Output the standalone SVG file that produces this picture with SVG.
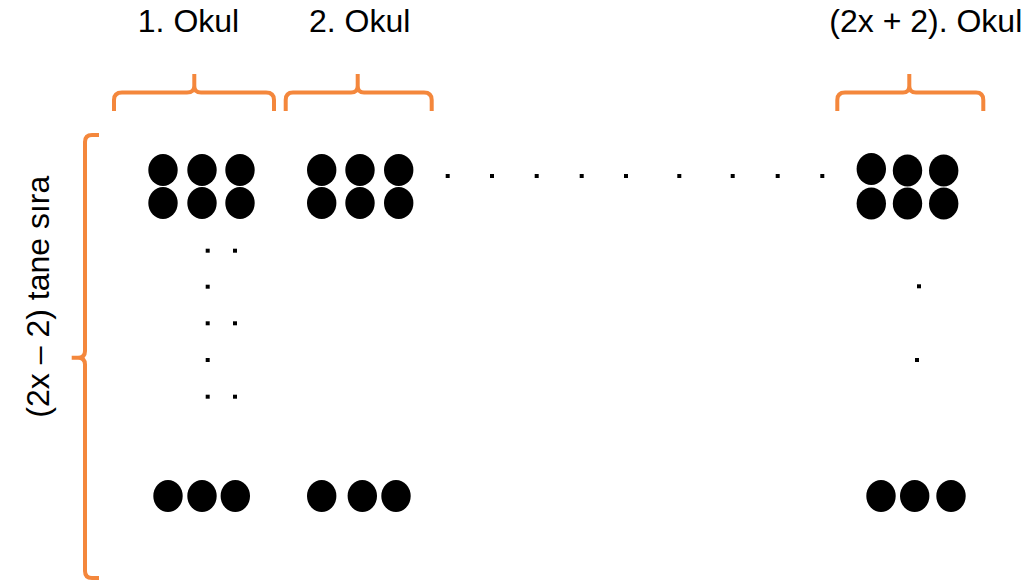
<svg xmlns="http://www.w3.org/2000/svg" width="1030" height="586" viewBox="0 0 1030 586">
<style>
.lbl{font-family:"Liberation Sans",Arial,sans-serif;font-size:32px;fill:#000;text-anchor:middle}
.br{fill:none;stroke:#F4873C;stroke-width:4;stroke-linecap:butt;stroke-linejoin:round}
.b{fill:#000}
</style>
<defs>
<ellipse id="c" rx="14.7" ry="16" class="b"/>
<rect id="d" x="-2" y="-2" width="4" height="4" class="b"/>
</defs>
<rect width="1030" height="586" fill="#fff"/>
<g id="labels">
<text class="lbl" x="188.5" y="31.5">1. Okul</text>
<text class="lbl" x="359.7" y="31.5">2. Okul</text>
<text class="lbl" x="925.8" y="31.5">(2x + 2). Okul</text>
<text class="lbl" transform="translate(49,296.7) rotate(-90)">(2x – 2) tane sıra</text>
</g>
<g id="brackets">
<path class="br" d="M114,111 V100 Q114,92.5 122,92.5 H187 Q194.3,92.5 194.3,86 V74 M194.3,86 Q194.3,92.5 201,92.5 H266 Q274,92.5 274,100 V111"/>
<path class="br" d="M285.7,111 V100 Q285.7,92.5 293,92.5 H351 Q357.7,92.5 357.7,86 V74 M357.7,86 Q357.7,92.5 364,92.5 H424 Q431.7,92.5 431.7,100 V111"/>
<path class="br" d="M837.3,111 V100 Q837.3,92.5 845,92.5 H903 Q909.3,92.5 909.3,86 V74 M909.3,86 Q909.3,92.5 916,92.5 H976 Q983.3,92.5 983.3,100 V111"/>
<path class="br" d="M99,135 H92 Q85,135 85,142 V351 Q85,357.7 78,357.7 H71.7 M78,357.7 Q85,357.7 85,364.5 V571 Q85,578 92,578 H99"/>
</g>
<g id="group1">
<use href="#c" x="163" y="170"/><use href="#c" x="202" y="170"/><use href="#c" x="240" y="170"/>
<use href="#c" x="163" y="203"/><use href="#c" x="202" y="203"/><use href="#c" x="240" y="203"/>
<use href="#c" x="168" y="496"/><use href="#c" x="202" y="496"/><use href="#c" x="235.3" y="496"/>
</g>
<g id="group2">
<use href="#c" x="321.7" y="170"/><use href="#c" x="360" y="170"/><use href="#c" x="398.7" y="170"/>
<use href="#c" x="321.7" y="203"/><use href="#c" x="360" y="203"/><use href="#c" x="398.7" y="203"/>
<use href="#c" x="321.7" y="496"/><use href="#c" x="362.3" y="496"/><use href="#c" x="396" y="496"/>
</g>
<g id="group3">
<use href="#c" x="871.3" y="169"/><use href="#c" x="907.5" y="170.5"/><use href="#c" x="943.7" y="170.5"/>
<use href="#c" x="871.3" y="203.5"/><use href="#c" x="907.5" y="203.5"/><use href="#c" x="943.7" y="203.5"/>
<use href="#c" x="881" y="496"/><use href="#c" x="914.7" y="496"/><use href="#c" x="951" y="496"/>
</g>
<g id="ellipsis-dots">
<use href="#d" x="447.7" y="176"/><use href="#d" x="492" y="176"/><use href="#d" x="536.7" y="176"/>
<use href="#d" x="581.7" y="176"/><use href="#d" x="626" y="176"/><use href="#d" x="679.3" y="176"/>
<use href="#d" x="732.7" y="176"/><use href="#d" x="777.7" y="176"/><use href="#d" x="822.3" y="176"/>
<use href="#d" x="207.7" y="250.7"/><use href="#d" x="235" y="250.7"/>
<use href="#d" x="207.7" y="286.7"/>
<use href="#d" x="207.7" y="323.3"/><use href="#d" x="235" y="323.3"/>
<use href="#d" x="207.7" y="360"/>
<use href="#d" x="207.7" y="396.7"/><use href="#d" x="235" y="396.7"/>
<use href="#d" x="919" y="286.3"/>
<use href="#d" x="917" y="360"/>
</g>
</svg>
